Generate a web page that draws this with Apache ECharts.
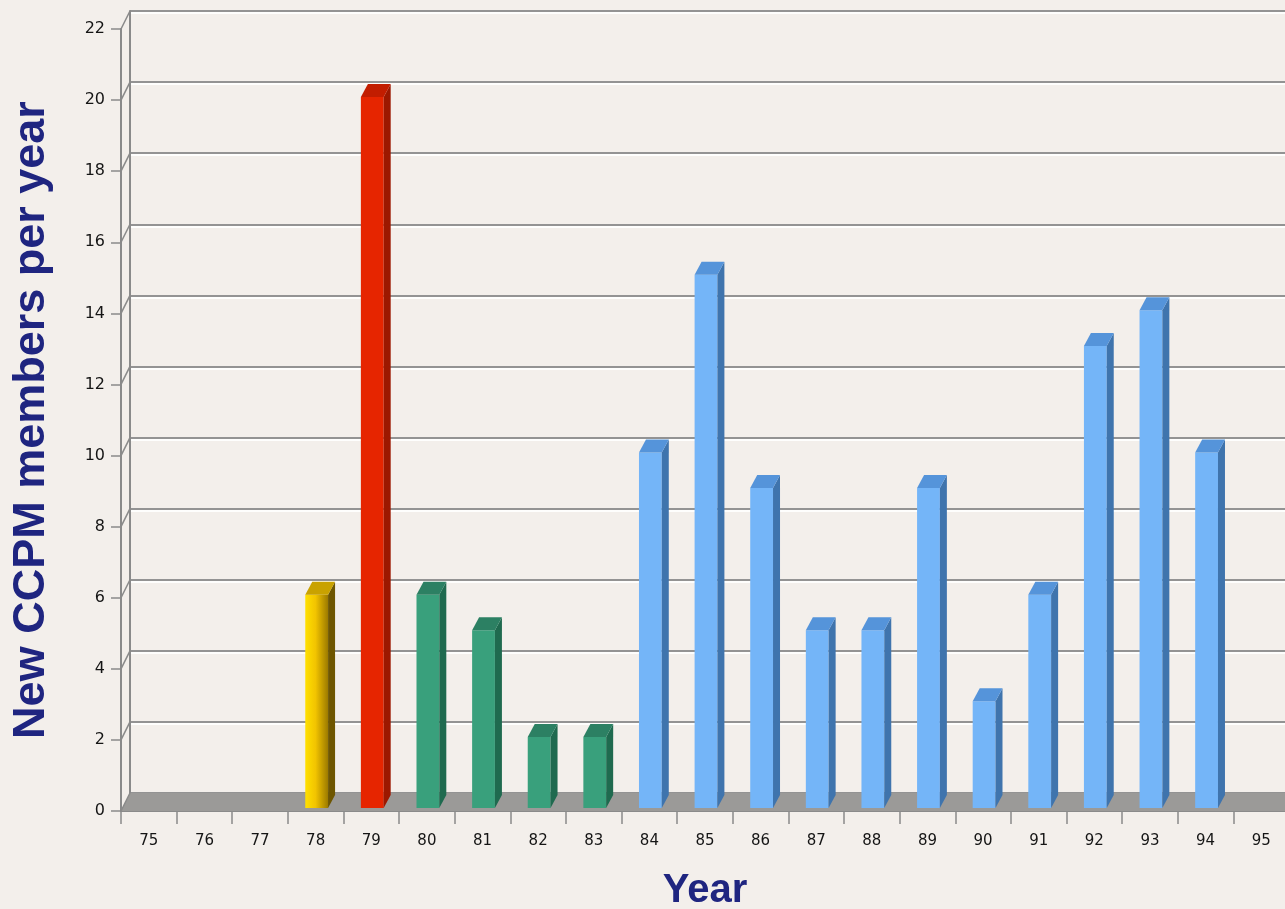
<!DOCTYPE html>
<html>
<head>
<meta charset="utf-8">
<script src="https://cdn.jsdelivr.net/npm/echarts@6/dist/echarts.min.js"></script>
<style>
  html, body { margin: 0; padding: 0; background: #f3efeb; }
  #chart { width: 1285px; height: 909px; }
</style>
</head>
<body>
<div id="chart"></div>
<script>
// Year of joining (two-digit) and number of new members that year
const years = ['75','76','77','78','79','80','81','82','83','84','85','86','87','88','89','90','91','92','93','94','95'];
const members = [null, null, null, 6, 20, 6, 5, 2, 2, 10, 15, 9, 5, 5, 9, 3, 6, 13, 14, 10, null];
// Period each year belongs to (drives the bar colour)
const periods = ['', '', '', 'start', 'peak', 'early', 'early', 'early', 'early',
  'late', 'late', 'late', 'late', 'late', 'late', 'late', 'late', 'late', 'late', 'late', ''];
const yTicks = [0, 2, 4, 6, 8, 10, 12, 14, 16, 18, 20, 22];

// Colours of the three visible faces for each period
const palette = {
  start: {
    front: new echarts.graphic.LinearGradient(0, 0, 1, 0, [
      { offset: 0, color: '#ffe000' }, { offset: 0.45, color: '#f2c400' }, { offset: 1, color: '#9c7a00' }
    ]),
    side: '#6e5600', top: '#c9a200'
  },
  peak:  { front: '#e62500', side: '#9c1800', top: '#c21d00' },
  early: { front: '#39a07c', side: '#1f6a4f', top: '#2c8063' },
  late:  { front: '#74b5f8', side: '#3f74ad', top: '#5594da' }
};

// Depth of the box: back wall offset from the front plane
const WALL_DX = 9, WALL_DY = -18;
// Bars sit slightly behind the front plane and are a bit shallower than the box
const BAR_FY = -3, BAR_DX = 7, BAR_DY = -13;

const chart = echarts.init(document.getElementById('chart'), null, { renderer: 'canvas' });

const gridW = 1168, gridH = 782;

const option = {
  backgroundColor: '#f3efeb',
  animation: false,
  grid: [
    { left: 121, top: 29, width: gridW, height: gridH, outerBoundsMode: 'none', containLabel: false },
    { left: 121 + WALL_DX, top: 29 + WALL_DY, width: gridW, height: gridH, outerBoundsMode: 'none', containLabel: false }
  ],
  xAxis: [
    {
      gridIndex: 0, type: 'category', data: years, boundaryGap: true,
      axisLine: { show: true, lineStyle: { color: '#8a8a8a', width: 2 } },
      axisTick: { show: true, length: 13, lineStyle: { color: '#8a8a8a', width: 1.5 } },
      axisLabel: { fontFamily: 'DejaVu Sans', fontSize: 15, color: '#151515', margin: 23 },
      name: 'Year', nameLocation: 'middle', nameGap: 60,
      nameTextStyle: { fontFamily: 'Liberation Sans', fontWeight: 'bold', fontSize: 40, color: '#1f2580' },
      splitLine: { show: false }
    },
    {
      gridIndex: 1, type: 'category', data: years, boundaryGap: true,
      axisLine: { show: false }, axisTick: { show: false }, axisLabel: { show: false },
      splitLine: { show: false }
    }
  ],
  yAxis: [
    {
      gridIndex: 0, type: 'value', min: 0, max: 22, interval: 2,
      axisLine: { show: true, lineStyle: { color: '#8a8a8a', width: 2 } },
      axisTick: { show: true, length: 10, lineStyle: { color: '#8a8a8a', width: 1.5 } },
      axisLabel: { fontFamily: 'DejaVu Sans', fontSize: 16, color: '#151515', margin: 16 },
      splitLine: { show: false },
      name: 'New CCPM members per year', nameLocation: 'middle', nameRotate: 90, nameGap: 67,
      nameTextStyle: { fontFamily: 'Liberation Sans', fontWeight: 'bold', fontSize: 45, color: '#1f2580' }
    },
    {
      gridIndex: 1, type: 'value', min: 0, max: 22, interval: 2,
      axisLine: { show: true, lineStyle: { color: '#8a8a8a', width: 2 } },
      axisTick: { show: false }, axisLabel: { show: false },
      splitLine: {
        show: true,
        lineStyle: { color: '#939393', width: 2, shadowColor: 'rgba(255,255,255,0.9)', shadowOffsetY: 2, shadowBlur: 0 }
      }
    }
  ],
  series: [
    // Floor of the box
    {
      type: 'custom', xAxisIndex: 0, yAxisIndex: 0, z: 3,
      data: [[0, 0]],
      renderItem: function (params, api) {
        const cs = params.coordSys;
        const y0 = api.coord([0, 0])[1];
        const xl = cs.x, xr = cs.x + cs.width + WALL_DX;
        return {
          type: 'polygon',
          shape: { points: [[xl, y0], [xl + WALL_DX, y0 + WALL_DY], [xr + WALL_DX, y0 + WALL_DY], [xr, y0]] },
          style: { fill: '#9b9a98' }
        };
      }
    },
    // Slanted edges joining front ticks to the back-wall grid lines
    {
      type: 'custom', xAxisIndex: 0, yAxisIndex: 0, z: 4,
      data: yTicks.map(function (t) { return [0, t]; }),
      renderItem: function (params, api) {
        const cs = params.coordSys;
        const y = api.coord([0, api.value(1)])[1];
        return {
          type: 'line',
          shape: { x1: cs.x, y1: y, x2: cs.x + WALL_DX, y2: y + WALL_DY },
          style: { stroke: '#8a8a8a', lineWidth: 1.5 }
        };
      }
    },
    // 3D bars
    {
      type: 'custom', xAxisIndex: 0, yAxisIndex: 0, z: 5,
      data: members.map(function (v, i) { return [i, v == null ? '-' : v]; }),
      renderItem: function (params, api) {
        const idx = api.value(0);
        const v = api.value(1);
        if (v == null || isNaN(v)) return;
        const col = palette[periods[idx]];
        const topPt = api.coord([idx, v]);
        const basePt = api.coord([idx, 0]);
        const bw = api.size([1, 0])[0] * 0.41;
        const x0 = topPt[0] - bw / 2 + 1, x1 = x0 + bw;
        const yt = topPt[1] + BAR_FY, yb = basePt[1] + BAR_FY;
        return {
          type: 'group',
          children: [
            { type: 'rect', shape: { x: x0, y: yt, width: bw, height: yb - yt }, style: { fill: col.front } },
            { type: 'polygon', shape: { points: [[x1, yt], [x1 + BAR_DX, yt + BAR_DY], [x1 + BAR_DX, yb + BAR_DY], [x1, yb]] },
              style: { fill: col.side } },
            { type: 'polygon', shape: { points: [[x0, yt], [x1, yt], [x1 + BAR_DX, yt + BAR_DY], [x0 + BAR_DX, yt + BAR_DY]] },
              style: { fill: col.top } }
          ]
        };
      }
    }
  ]
};

chart.setOption(option);
</script>
</body>
</html>
